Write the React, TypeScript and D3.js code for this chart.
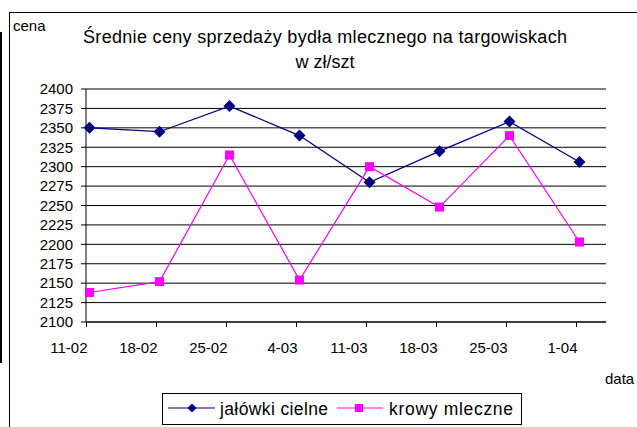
import React from "react";
import * as d3 from "d3";

const dates = ["11-02", "18-02", "25-02", "4-03", "11-03", "18-03", "25-03", "1-04"];
const jalowki = [2350, 2345, 2378, 2340, 2280, 2320, 2358, 2306];
const krowy = [2138, 2152, 2315, 2154, 2300, 2248, 2340, 2203];
const yTicks = [2100, 2125, 2150, 2175, 2200, 2225, 2250, 2275, 2300, 2325, 2350, 2375, 2400];
const seriesNames = ["jałówki cielne", "krowy mleczne"];
const titleLines = ["Średnie ceny sprzedaży bydła mlecznego na targowiskach", "w zł/szt"];
const YEAR = 2003;
const X_END = "4-04";

const parse = (s: string) => {
  const [d, m] = s.split("-").map(Number);
  return new Date(Date.UTC(YEAR, m - 1, d));
};

const W = 637;
const H = 427;
const plot = { left: 86, right: 606, top: 89, bottom: 322 };
const POINT_OFFSET = 3.5;
const FONT = "'Liberation Sans', Arial, sans-serif";
const NAVY = "#000080";
const MAGENTA = "#FF00FF";

export default function App() {
  const x = d3.scaleUtc().domain([parse(dates[0]), parse(X_END)]).range([plot.left, plot.right]);
  const y = d3.scaleLinear().domain([2100, 2400]).range([plot.bottom, plot.top]);
  const px = (i: number) => x(parse(dates[i])) + POINT_OFFSET;
  const line = d3
    .line<number>()
    .x((_, i) => px(i))
    .y((v) => y(v));

  const diamond = (cx: number, cy: number, r: number) =>
    `M${cx},${cy - r}L${cx + r},${cy}L${cx},${cy + r}L${cx - r},${cy}Z`;

  return (
    <svg
      width={W}
      height={H}
      style={{ position: "absolute", left: 0, top: 0, background: "#fff" }}
      fontFamily={FONT}
    >
      <rect x={0} y={0} width={W} height={H} fill="#fff" />
      {/* outer frame */}
      <rect x={9.5} y={12.5} width={W + 20} height={H + 20} fill="none" stroke="#000" strokeWidth={1} />
      <line x1={1} x2={1} y1={32} y2={363} stroke="#000" strokeWidth={2} />

      {/* title */}
      <text x={83} y={43} fontSize={18} textLength={484} lengthAdjust="spacing" fill="#000">
        {titleLines[0]}
      </text>
      <text x={325} y={68} fontSize={18} textAnchor="middle" fill="#000">
        {titleLines[1]}
      </text>
      <text x={13} y={31} fontSize={15} fill="#000">
        cena
      </text>
      <text x={605} y={384} fontSize={15} fill="#000">
        data
      </text>

      {/* gridlines & y axis */}
      {yTicks.map((t) => (
        <g key={t}>
          <line x1={plot.left - 5} x2={plot.right} y1={y(t)} y2={y(t)} stroke="#000" strokeWidth={1} />
          <text x={73} y={y(t)} dy="0.35em" fontSize={15} textAnchor="end" fill="#000">
            {t}
          </text>
        </g>
      ))}
      <line x1={plot.left} x2={plot.left} y1={plot.top} y2={plot.bottom} stroke="#000" strokeWidth={1} />
      <line x1={plot.left} x2={plot.right} y1={plot.bottom} y2={plot.bottom} stroke="#000" strokeWidth={1} />

      {/* x axis ticks & labels */}
      {dates.map((d) => {
        const tx = Math.round(x(parse(d))) + 0.5;
        return (
          <g key={d}>
            <line x1={tx} x2={tx} y1={plot.bottom} y2={plot.bottom + 5} stroke="#000" strokeWidth={1} />
            <text x={tx + 1} y={353} fontSize={15} textAnchor="end" fill="#000">
              {d}
            </text>
          </g>
        );
      })}

      {/* series */}
      <path d={line(jalowki) || ""} fill="none" stroke={NAVY} strokeWidth={1.2} />
      <path d={line(krowy) || ""} fill="none" stroke={MAGENTA} strokeWidth={1.2} />
      {jalowki.map((v, i) => (
        <path key={"j" + i} d={diamond(px(i), y(v), 6)} fill={NAVY} />
      ))}
      {krowy.map((v, i) => (
        <rect key={"k" + i} x={px(i) - 4.5} y={y(v) - 4.5} width={9} height={9} fill={MAGENTA} />
      ))}

      {/* legend */}
      <rect x={162.5} y={393.5} width={359} height={31} fill="#fff" stroke="#000" strokeWidth={1} />
      <line x1={168} x2={215} y1={408} y2={408} stroke={NAVY} strokeWidth={1.2} />
      <path d={diamond(192, 408, 4.5)} fill={NAVY} />
      <text x={220} y={415} fontSize={17.5} textLength={108} lengthAdjust="spacing" fill="#000">
        {seriesNames[0]}
      </text>
      <line x1={337} x2={383} y1={408} y2={408} stroke={MAGENTA} strokeWidth={1.2} />
      <rect x={355} y={404} width={8} height={8} fill={MAGENTA} />
      <text x={389} y={415} fontSize={17.5} textLength={124} lengthAdjust="spacing" fill="#000">
        {seriesNames[1]}
      </text>
    </svg>
  );
}
